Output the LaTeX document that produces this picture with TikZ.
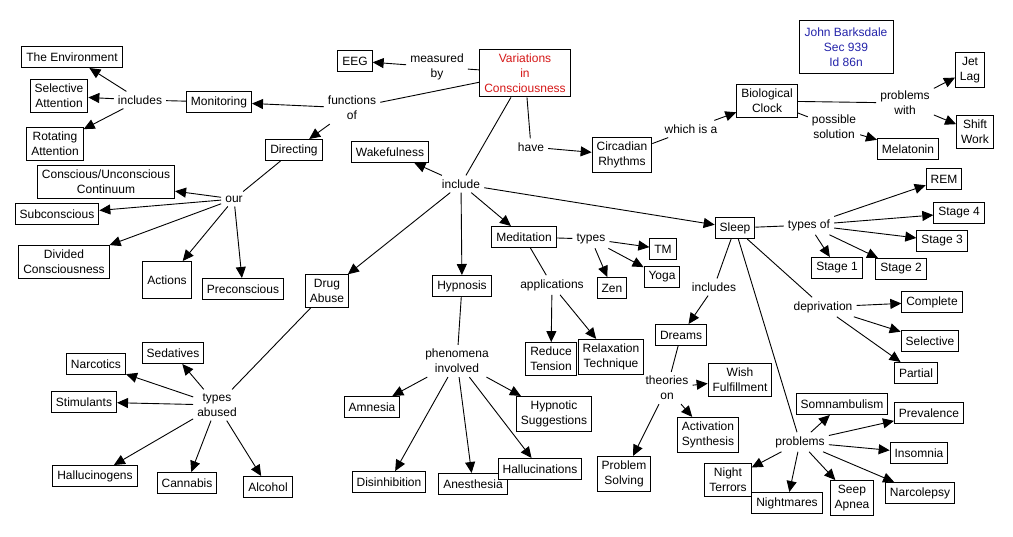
\documentclass[tikz,border=0pt]{standalone}
\usepackage{fontspec}
\newfontfamily\mapfont{Liberation Sans}
\usetikzlibrary{arrows.meta}
\definecolor{titlered}{RGB}{214,24,24}
\definecolor{nameblue}{RGB}{36,36,170}
\tikzset{
  concept/.style = {
    rectangle,
    draw = black,
    fill = white,
    line width = 1pt,
    align = center,
    inner xsep = 4.5pt,
    inner ysep = 4.5pt,
    minimum height = 21pt,
    font = \mapfont\fontsize{12}{15}\selectfont
  },
  phrase/.style = {
    align = center,
    inner sep = 4pt,
    font = \mapfont\fontsize{12}{15}\selectfont
  },
  tie/.style = {
    line width = .9pt
  },
  con/.style = {
    -{Triangle[length = 11pt, width = 10pt]},
    line width = .9pt
  }
}
\newcommand{\linkup}[3]{
  \draw[tie] (#1) -- (#2);
  \foreach \tgt in {#3} \draw[con] (#2) -- (\tgt);
}

\begin{document}
\begin{tikzpicture}[x = 1pt, y = -1pt]
  \useasboundingbox (0,0) rectangle (1013,536);

  % Centro.
  \node[concept, text = titlered] (VC) at (525,73) {Variations\\in\\Consciousness};
  \node[concept, text = nameblue, minimum width = 94pt, minimum height = 53pt] (Name) at (846,47) {John Barksdale\\Sec 939\\Id 86n};
  \node[concept] (EEG) at (355,61) {EEG};
  \node[phrase] (meas) at (437,67) {measured\\by};

  % Funciones.
  \node[phrase] (funcs) at (352,108) {functions\\of};
  \node[concept] (Mon) at (219,102) {Monitoring};
  \node[phrase] (monInc) at (140,100) {includes};
  \node[concept] (Env) at (72,57) {The Environment};
  \node[concept] (SelAtt) at (59,96) {Selective\\Attention};
  \node[concept] (RotAtt) at (55,144) {Rotating\\Attention};
  \node[concept] (Dir) at (294,150) {Directing};
  \node[phrase] (our) at (234,199) {our};
  \node[concept] (CUC) at (106,182) {Conscious/Unconscious\\Continuum};
  \node[concept] (Subc) at (57,214) {Subconscious};
  \node[concept] (DivC) at (64,262) {Divided\\Consciousness};
  \node[concept, minimum height = 37pt] (Act) at (167,280) {Actions};
  \node[concept] (Prec) at (243,289) {Preconscious};

  % Ritmos circadianos.
  \node[phrase] (have) at (531,147) {have};
  \node[concept] (Circ) at (622,155) {Circadian\\Rhythms};
  \node[phrase] (whichA) at (691,129) {which is a};
  \node[concept] (Bio) at (767,101) {Biological\\Clock};
  \node[phrase] (probW) at (905,103) {problems\\with};
  \node[phrase] (posS) at (834,127) {possible\\solution};
  \node[concept] (Mel) at (908,149) {Melatonin};
  \node[concept] (Jet) at (970,70) {Jet\\Lag};
  \node[concept] (Shift) at (975,132) {Shift\\Work};

  % Estados.
  \node[phrase] (incl) at (461,184) {include};
  \node[concept] (Wake) at (390,152) {Wakefulness};
  \node[concept] (Drug) at (327,291) {Drug\\Abuse};
  \node[concept] (Hyp) at (462,286) {Hypnosis};
  \node[concept] (Med) at (524,237) {Meditation};
  \node[concept] (Sleep) at (735,228) {Sleep};

  % Meditacion.
  \node[phrase] (medTy) at (591,239) {types};
  \node[concept] (TM) at (663,249) {TM};
  \node[concept] (Zen) at (612,288) {Zen};
  \node[concept] (Yoga) at (662,277) {Yoga};
  \node[phrase] (appl) at (552,285) {applications};
  \node[concept] (RedT) at (551,359) {Reduce\\Tension};
  \node[concept] (RelT) at (611,357) {Relaxation\\Technique};

  % Sueno.
  \node[phrase] (slTy) at (809,225) {types of};
  \node[concept] (REM) at (944,179) {REM};
  \node[concept] (St4) at (959,213) {Stage 4};
  \node[concept] (St3) at (942,241) {Stage 3};
  \node[concept] (St1) at (837,268) {Stage 1};
  \node[concept] (St2) at (901,269) {Stage 2};
  \node[phrase] (slInc) at (714,287) {includes};
  \node[concept] (Drm) at (681,335) {Dreams};
  \node[phrase] (theo) at (667,388) {theories\\on};
  \node[concept] (Wish) at (740,380) {Wish\\Fulfillment};
  \node[concept] (ActS) at (708,435) {Activation\\Synthesis};
  \node[concept] (ProbS) at (624,474) {Problem\\Solving};
  \node[phrase] (depr) at (823,307) {deprivation};
  \node[concept] (Comp) at (932,302) {Complete};
  \node[concept] (Sel) at (930,341) {Selective};
  \node[concept] (Part) at (916,373) {Partial};
  \node[phrase] (slProb) at (800,442) {problems};
  \node[concept] (Somn) at (842,404) {Somnambulism};
  \node[concept] (Prev) at (929,413) {Prevalence};
  \node[concept] (Ins) at (919,453) {Insomnia};
  \node[concept] (NTer) at (728,480) {Night\\Terrors};
  \node[concept] (NMar) at (787,503) {Nightmares};
  \node[concept] (Apn) at (852,498) {Seep\\Apnea};
  \node[concept] (Narc) at (920,493) {Narcolepsy};

  % Hipnosis.
  \node[phrase] (phen) at (457,361) {phenomena\\involved};
  \node[concept] (Amn) at (372,407) {Amnesia};
  \node[concept] (HypS) at (554,414) {Hypnotic\\Suggestions};
  \node[concept] (Dis) at (389,482) {Disinhibition};
  \node[concept] (Anes) at (473,484) {Anesthesia};
  \node[concept] (Hall) at (540,469) {Hallucinations};

  % Drogas.
  \node[phrase] (typAb) at (217,405) {types\\abused};
  \node[concept] (Sed) at (173,353) {Sedatives};
  \node[concept] (Narco) at (96,364) {Narcotics};
  \node[concept] (Stim) at (84,402) {Stimulants};
  \node[concept] (Hlg) at (95,476) {Hallucinogens};
  \node[concept] (Cann) at (187,483) {Cannabis};
  \node[concept] (Alc) at (268,487) {Alcohol};

  % Conexiones.
  \linkup{VC}{meas}{EEG}
  \linkup{VC}{funcs}{Mon, Dir}
  \linkup{Mon}{monInc}{Env, SelAtt, RotAtt}
  \linkup{Dir}{our}{CUC, Subc, DivC, Act, Prec}
  \linkup{VC}{incl}{Wake, Drug, Hyp, Med, Sleep}
  \linkup{VC}{have}{Circ}
  \linkup{Circ}{whichA}{Bio}
  \linkup{Bio}{probW}{Jet, Shift}
  \linkup{Bio}{posS}{Mel}
  \linkup{Med}{medTy}{TM, Zen, Yoga}
  \linkup{Med}{appl}{RedT, RelT}
  \linkup{Sleep}{slTy}{REM, St4, St3, St1, St2}
  \linkup{Sleep}{slInc}{Drm}
  \linkup{Drm}{theo}{Wish, ActS, ProbS}
  \linkup{Sleep}{depr}{Comp, Sel, Part}
  \linkup{Sleep}{slProb}{Somn, Prev, Ins, NTer, NMar, Apn, Narc}
  \linkup{Hyp}{phen}{Amn, HypS, Dis, Anes, Hall}
  \linkup{Drug}{typAb}{Sed, Narco, Stim, Hlg, Cann, Alc}
\end{tikzpicture}
\end{document}
